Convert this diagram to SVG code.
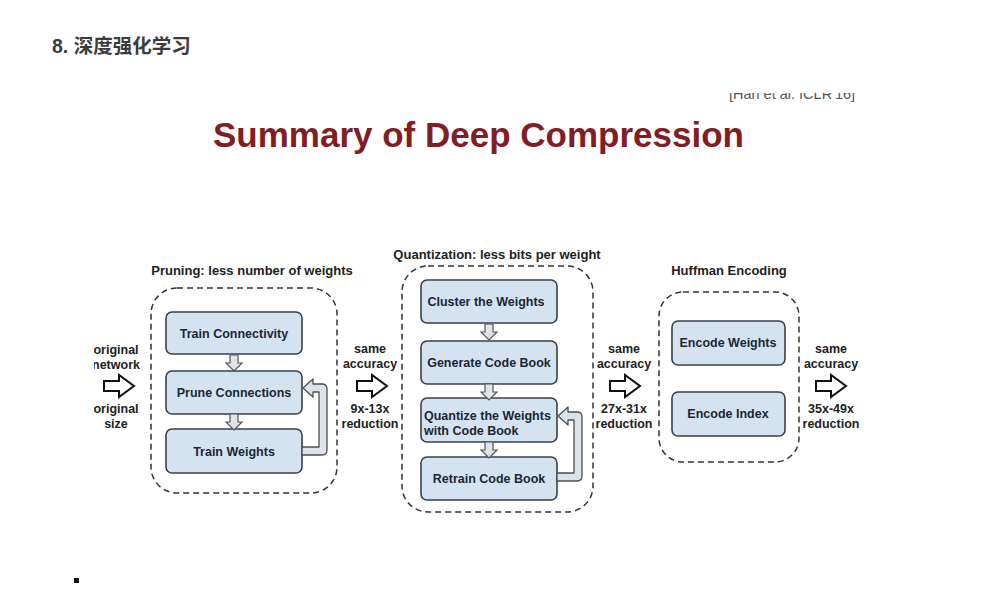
<svg xmlns="http://www.w3.org/2000/svg" width="997" height="593" viewBox="0 0 997 593">
<defs>
<style>
.hd{font-family:"Liberation Sans","Noto Sans CJK SC",sans-serif;font-weight:bold;font-size:19.5px;fill:#3c3c3c}
.title{font-family:"Liberation Sans",Arial,sans-serif;font-weight:bold;font-size:35px;fill:#821d24}
.cap{font-family:"Liberation Sans",Arial,sans-serif;font-weight:bold;font-size:13px;fill:#222;text-anchor:middle}
.side{font-family:"Liberation Sans",Arial,sans-serif;font-weight:bold;font-size:12.5px;fill:#222;text-anchor:middle}
.box{fill:#d5e3f1;stroke:#3b4048;stroke-width:1.6}
.lbl{font-family:"Liberation Sans",Arial,sans-serif;font-weight:bold;font-size:12.5px;fill:#1c2636;text-anchor:middle}
.grp{fill:none;stroke:#333;stroke-width:1.5;stroke-dasharray:6 4}
.big{fill:#fff;stroke:#111;stroke-width:2;stroke-linejoin:miter}
.small{fill:#dfe4ea;stroke:#555;stroke-width:1.2}
.loop{fill:#dde2e8;stroke:#4a4f56;stroke-width:1.3;stroke-linejoin:round}
.ref{font-family:"Liberation Sans",Arial,sans-serif;font-size:14.5px;fill:#555;text-anchor:middle}
</style>
<clipPath id="refclip"><rect x="600" y="93" width="300" height="20"/></clipPath>
<clipPath id="leftclip"><rect x="94" y="300" width="100" height="150"/></clipPath>
<path id="bigArrow" d="M0,-5 L15,-5 L15,-11 L30,0 L15,11 L15,5 L0,5 Z"/>
<path id="downArrow" d="M-4,0 L4,0 L4,8 L8,8 L0,16 L-8,8 L-4,8 Z"/>
</defs>
<rect width="997" height="593" fill="#fff"/>

<text class="hd" x="52" y="53">8. 深度强化学习</text>

<g id="citation" clip-path="url(#refclip)">
<text class="ref" x="792" y="99">[Han et al. ICLR'16]</text>
</g>

<text class="title" x="213" y="147">Summary of Deep Compression</text>

<!-- Pruning group -->
<g id="pruning">
<text class="cap" x="252" y="275">Pruning: less number of weights</text>
<rect class="grp" x="151" y="288" width="186" height="205" rx="26"/>
</g>
<g id="train-connectivity">
<rect class="box" x="166" y="312" width="136" height="42" rx="6"/>
<text class="lbl" x="234" y="338">Train Connectivity</text>
</g>
<g id="prune-connections">
<rect class="box" x="166" y="371" width="136" height="43" rx="6"/>
<text class="lbl" x="234" y="397">Prune Connections</text>
</g>
<g id="train-weights">
<rect class="box" x="166" y="429" width="136" height="44" rx="6"/>
<text class="lbl" x="234" y="456">Train Weights</text>
</g>

<!-- Quantization group -->
<g id="quantization">
<text class="cap" x="497" y="259">Quantization: less bits per weight</text>
<rect class="grp" x="402" y="266" width="191" height="246" rx="26"/>
</g>
<g id="cluster-weights">
<rect class="box" x="421" y="280" width="136" height="43" rx="6"/>
<text class="lbl" x="486" y="306">Cluster the Weights</text>
</g>
<g id="generate-codebook">
<rect class="box" x="421" y="341" width="136" height="43" rx="6"/>
<text class="lbl" x="489" y="367">Generate Code Book</text>
</g>
<g id="quantize-weights">
<rect class="box" x="421" y="398" width="136" height="44" rx="6"/>
<text class="lbl" x="424" y="420" style="text-anchor:start">Quantize the Weights</text>
<text class="lbl" x="424" y="435" style="text-anchor:start">with Code Book</text>
</g>
<g id="retrain-codebook">
<rect class="box" x="421" y="457" width="136" height="43" rx="6"/>
<text class="lbl" x="489" y="483">Retrain Code Book</text>
</g>

<!-- Huffman group -->
<g id="huffman">
<text class="cap" x="729" y="275">Huffman Encoding</text>
<rect class="grp" x="659" y="292" width="140" height="170" rx="24"/>
</g>
<g id="encode-weights">
<rect class="box" x="672" y="321" width="113" height="44" rx="6"/>
<text class="lbl" x="728" y="347">Encode Weights</text>
</g>
<g id="encode-index">
<rect class="box" x="672" y="392" width="113" height="44" rx="6"/>
<text class="lbl" x="728" y="418">Encode Index</text>
</g>

<!-- side labels -->
<g id="input-label" clip-path="url(#leftclip)">
<text class="side" x="116" y="354">original</text>
<text class="side" x="116" y="369">network</text>
<text class="side" x="116" y="413">original</text>
<text class="side" x="116" y="428">size</text>
</g>
<g id="stage1-label">
<text class="side" x="370" y="353">same</text>
<text class="side" x="370" y="368">accuracy</text>
<text class="side" x="370" y="413">9x-13x</text>
<text class="side" x="370" y="428">reduction</text>
</g>
<g id="stage2-label">
<text class="side" x="624" y="353">same</text>
<text class="side" x="624" y="368">accuracy</text>
<text class="side" x="624" y="413">27x-31x</text>
<text class="side" x="624" y="428">reduction</text>
</g>
<g id="stage3-label">
<text class="side" x="831" y="353">same</text>
<text class="side" x="831" y="368">accuracy</text>
<text class="side" x="831" y="413">35x-49x</text>
<text class="side" x="831" y="428">reduction</text>
</g>

<g id="connectors">
<use href="#bigArrow" class="big" x="104" y="386"/>
<use href="#bigArrow" class="big" x="357" y="386"/>
<use href="#bigArrow" class="big" x="610" y="386"/>
<use href="#bigArrow" class="big" x="816" y="386"/>

<use href="#downArrow" class="small" x="234" y="355"/>
<use href="#downArrow" class="small" x="234" y="414"/>
<use href="#downArrow" class="small" x="489" y="324"/>
<use href="#downArrow" class="small" x="489" y="384"/>
<use href="#downArrow" class="small" x="489" y="442"/>

<path class="loop" d="M302,455 L322,455 Q327,455 327,450 L327,389 Q327,384 322,384 L313,384 L313,379 L303,388 L313,397 L313,392 L319,392 L319,447 L302,447 Z"/>
<path class="loop" d="M557,481 L577,481 Q582,481 582,476 L582,417 Q582,412 577,412 L568,412 L568,407 L558,416 L568,425 L568,420 L574,420 L574,473 L557,473 Z"/>
</g>

<rect x="74" y="578" width="5" height="5" fill="#111"/>
</svg>
